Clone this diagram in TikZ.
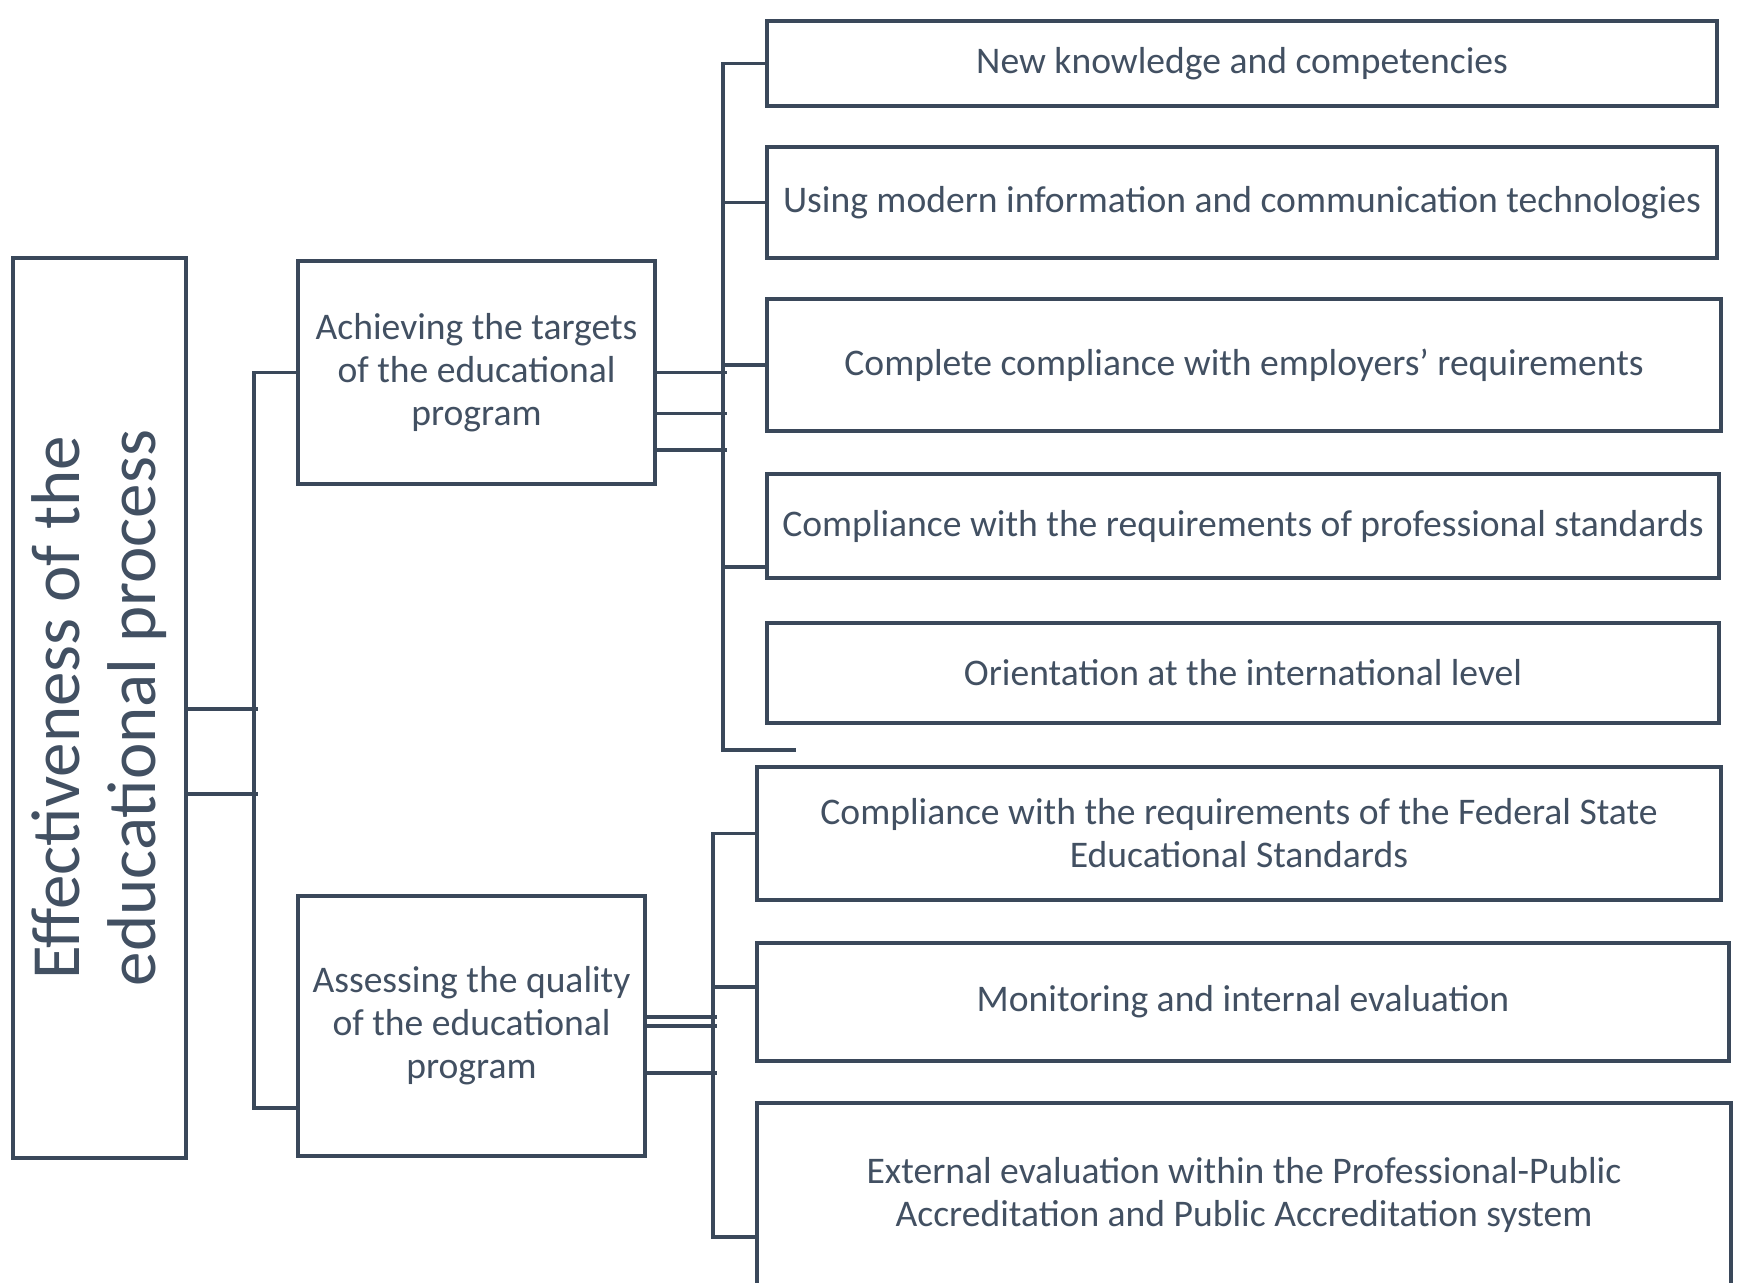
\documentclass[tikz,border=0pt]{standalone}
\usepackage{fontspec}
\setmainfont{Carlito}
\usetikzlibrary{positioning}
\definecolor{slate}{RGB}{58,72,90}
\definecolor{slatetext}{RGB}{66,80,98}

\begin{document}
\begin{tikzpicture}[x=0.5pt, y=-0.5pt,
		box/.style={rectangle, draw=slate, line width=2pt, inner sep=0pt, text=slatetext, align=center, font=\fontsize{18.8}{21.5}\selectfont},
		link/.style={draw=slate, line width=1.9pt},
		]
	\useasboundingbox (0,0) rectangle (1738,1282);
	
	
	\node[box, minimum width=86.5pt, minimum height=450pt] (Effect) at (99.5,708) {};
	\node[rotate=90, align=center, text=slatetext, font=\fontsize{34.5}{38}\selectfont] (EffectText) at (Effect.center) {Effectiveness of the\\educational process};
	
	\node[box, minimum width=178.5pt, minimum height=111.5pt] (Achieving) at (476.5,372.5) {Achieving the targets\\of the educational\\program};
	\node[box, minimum width=173.5pt, minimum height=130pt] (Assessing) at (471.5,1026) {Assessing the quality\\of the educational\\program};
	
	\node[box, minimum width=475pt, minimum height=42.5pt] (Knowledge) at (1242,63.5) {New knowledge and competencies};
	\node[box, minimum width=475pt, minimum height=55.5pt] (Technologies) at (1242,202.5) {Using modern information and communication technologies};
	\node[box, minimum width=477pt, minimum height=66pt] (Employers) at (1244,365) {Complete compliance with employers’ requirements};
	\node[box, minimum width=476pt, minimum height=52pt] (ProfStandards) at (1243,526) {Compliance with the requirements of professional standards};
	\node[box, minimum width=476pt, minimum height=50pt] (International) at (1243,673) {Orientation at the international level};
	\node[box, minimum width=482pt, minimum height=66.5pt] (FederalState) at (1239,833.5) {Compliance with the requirements of the Federal State\\Educational Standards};
	\node[box, minimum width=486pt, minimum height=59pt] (Monitoring) at (1243,1002) {Monitoring and internal evaluation};
	\node[box, minimum width=487pt, minimum height=91.5pt] (External) at (1244,1194.5) {External evaluation within the Professional-Public\\Accreditation and Public Accreditation system};
	
	
	\draw[link] (Achieving.west) -- ++(-42,0) coordinate (busL) |- ([yshift=-41pt]Assessing.west);
	\foreach \s in {-0.5,-43}
		\draw[link] ([yshift=\s pt]Effect.east) -- +(70,0);
	
	\coordinate (footA) at (796,750);
	\draw[link] (Knowledge.west) -- ++(-42,0) coordinate (busA) |- (footA);
	\draw[link] (Technologies.west) -- ++(-42,0);
	\draw[link] (Employers.west) -- ++(-42,0);
	\draw[link] ([yshift=-20.5pt]ProfStandards.west) -- ++(-42,0);
	\foreach \s in {0,-20.5,-38.75}
		\draw[link] ([yshift=\s pt]Achieving.east) -- +(70,0);
	
	\draw[link] (FederalState.west) -- ++(-42,0) coordinate (busB) |- ([yshift=-21.25pt]External.west);
	\draw[link] ([yshift=7.5pt]Monitoring.west) -- ++(-42,0);
	\foreach \s in {4.5,0,-23.5}
		\draw[link] ([yshift=\s pt]Assessing.east) -- +(70,0);
	
\end{tikzpicture}
\end{document}
